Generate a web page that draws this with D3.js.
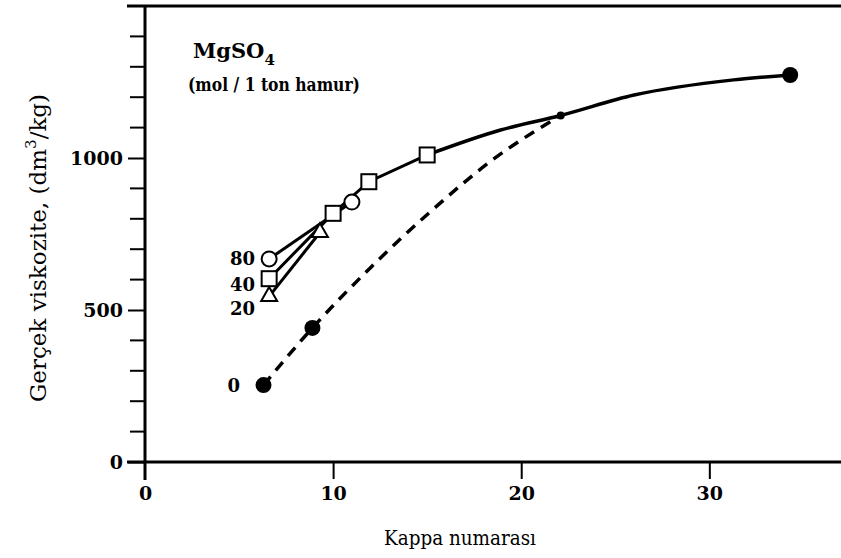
<!DOCTYPE html>
<html><head><meta charset="utf-8">
<script src="https://cdn.jsdelivr.net/npm/d3@7"></script>
<style>body{margin:0;background:#fff}svg{display:block}</style>
</head><body>
<script>
// ---- data ----
const xTicks = [0, 10, 20, 30];
const yTicks = [0, 500, 1000];
const yMinor = [100,200,300,400,600,700,800,900,1100,1200,1300,1400];
const s80 = [[6.6,668],[11.0,855]];                       // open circles
const s40 = [[6.6,603],[10.0,818],[11.9,922],[15.0,1010]]; // open squares
const s20 = [[6.6,545],[9.3,755]];                        // open triangles
const tail = [[15.0,1010],[18.9,1092],[22.1,1140],[26.0,1207],[31.3,1257],[34.3,1273]];
const s0pts = [[6.3,253],[8.9,441],[22.1,1140],[34.3,1273]]; // filled circles
const s0line = [[6.3,253],[8.9,441],[12.0,640],[15.2,825],[18.5,995],[22.1,1140]];
const seriesLabels = [["80",668],["40",603],["20",545],["0",253]];

const W = 841, H = 558;
const svg = d3.select("body").append("svg").attr("width", W).attr("height", H);
const x = d3.scaleLinear().domain([0, 37]).range([145, 841]);
const y = d3.scaleLinear().domain([0, 1500]).range([462, 6]);
const serif = "'DejaVu Serif', serif";

// top border
svg.append("line").attr("x1",127).attr("x2",W).attr("y1",y(1500)).attr("y2",y(1500))
  .attr("stroke","#000").attr("stroke-width",3);

// y axis
const gy = svg.append("g").attr("transform",`translate(${x(0)},0)`)
  .call(d3.axisLeft(y).tickValues(yTicks).tickSize(17).tickPadding(5).tickFormat(d3.format("d")));
gy.select(".domain").remove();
gy.append("line").attr("x1",0).attr("x2",0).attr("y1",y(1500)).attr("y2",480).attr("stroke","#000").attr("stroke-width",3);
gy.selectAll(".minor").data(yMinor).join("line").attr("class","minor")
  .attr("x1",-15).attr("x2",0).attr("y1",d=>y(d)).attr("y2",d=>y(d)).attr("stroke","#000").attr("stroke-width",2);
gy.selectAll(".tick line").attr("stroke-width",2);
gy.selectAll(".tick text").style("font-family",serif).style("font-weight","bold").style("font-size","19px").attr("fill","#000");

// x axis
const gx = svg.append("g").attr("transform",`translate(0,${y(0)})`)
  .call(d3.axisBottom(x).tickValues(xTicks).tickSize(17).tickPadding(8).tickFormat(d3.format("d")));
gx.select(".domain").remove();
gx.append("line").attr("x1",127).attr("x2",W).attr("y1",0).attr("y2",0).attr("stroke","#000").attr("stroke-width",3);
gx.selectAll(".tick line").attr("stroke-width",2).filter(d=>d===0).remove();
gx.selectAll(".tick text").style("font-family",serif).style("font-weight","bold").style("font-size","19px").attr("fill","#000");

// axis titles
svg.append("text").attr("x",384).attr("y",545)
  .style("font-family",serif).style("font-size","21px")
  .attr("textLength",152).attr("lengthAdjust","spacingAndGlyphs").text("Kappa numarası");
const yl = svg.append("text").attr("transform","translate(46,248) rotate(-90)").attr("text-anchor","middle")
  .style("font-family",serif).style("font-size","23px");
yl.append("tspan").text("Gerçek viskozite, (dm");
yl.append("tspan").attr("dy",-10).style("font-size","15px").text("3");
yl.append("tspan").attr("dy",10).text("/kg)");

// legend title
const t1 = svg.append("text").attr("x",193).attr("y",58).style("font-family",serif).style("font-weight","bold").style("font-size","21px");
t1.append("tspan").text("MgSO");
t1.append("tspan").attr("dy",7).style("font-size","15px").text("4");
svg.append("text").attr("x",188).attr("y",91).style("font-family",serif).style("font-weight","bold").style("font-size","18px")
  .attr("textLength",172).attr("lengthAdjust","spacingAndGlyphs")
  .text("(mol / 1 ton hamur)");

// lines
const line = d3.line().x(d=>x(d[0])).y(d=>y(d[1]));
const curve = d3.line().x(d=>x(d[0])).y(d=>y(d[1])).curve(d3.curveMonotoneX);
[s80, s40, s20].forEach(s => svg.append("path").attr("d", line(s)).attr("fill","none").attr("stroke","#000").attr("stroke-width",3));
svg.append("path").attr("d", curve(tail)).attr("fill","none").attr("stroke","#000").attr("stroke-width",3.5);
svg.append("path").attr("d", curve(s0line)).attr("fill","none").attr("stroke","#000").attr("stroke-width",3.5)
  .attr("stroke-dasharray","11,8");

// markers
svg.selectAll(".c80").data(s80).join("circle").attr("cx",d=>x(d[0])).attr("cy",d=>y(d[1])).attr("r",7.5)
  .attr("fill","#fff").attr("stroke","#000").attr("stroke-width",2);
svg.selectAll(".s40").data(s40).join("rect").attr("x",d=>x(d[0])-7.5).attr("y",d=>y(d[1])-7.5).attr("width",15).attr("height",15)
  .attr("fill","#fff").attr("stroke","#000").attr("stroke-width",2);
const tri = d3.symbol().type(d3.symbolTriangle).size(110);
svg.selectAll(".t20").data(s20).join("path").attr("d",tri).attr("transform",d=>`translate(${x(d[0])},${y(d[1])})`)
  .attr("fill","#fff").attr("stroke","#000").attr("stroke-width",2);
svg.selectAll(".f0").data(s0pts).join("circle").attr("cx",d=>x(d[0])).attr("cy",d=>y(d[1]))
  .attr("r",(d,i)=> i===2 ? 4 : 8).attr("fill","#000");

// series labels
const labOff = [0, 6, 13, 1];
svg.selectAll(".sl").data(seriesLabels).join("text").attr("x",(d,i)=> i===3 ? 240 : 255)
  .attr("y",(d,i)=>y(d[1])+6+labOff[i]).attr("text-anchor","end")
  .style("font-family",serif).style("font-weight","bold").style("font-size","18px").text(d=>d[0]);
</script>
</body></html>
